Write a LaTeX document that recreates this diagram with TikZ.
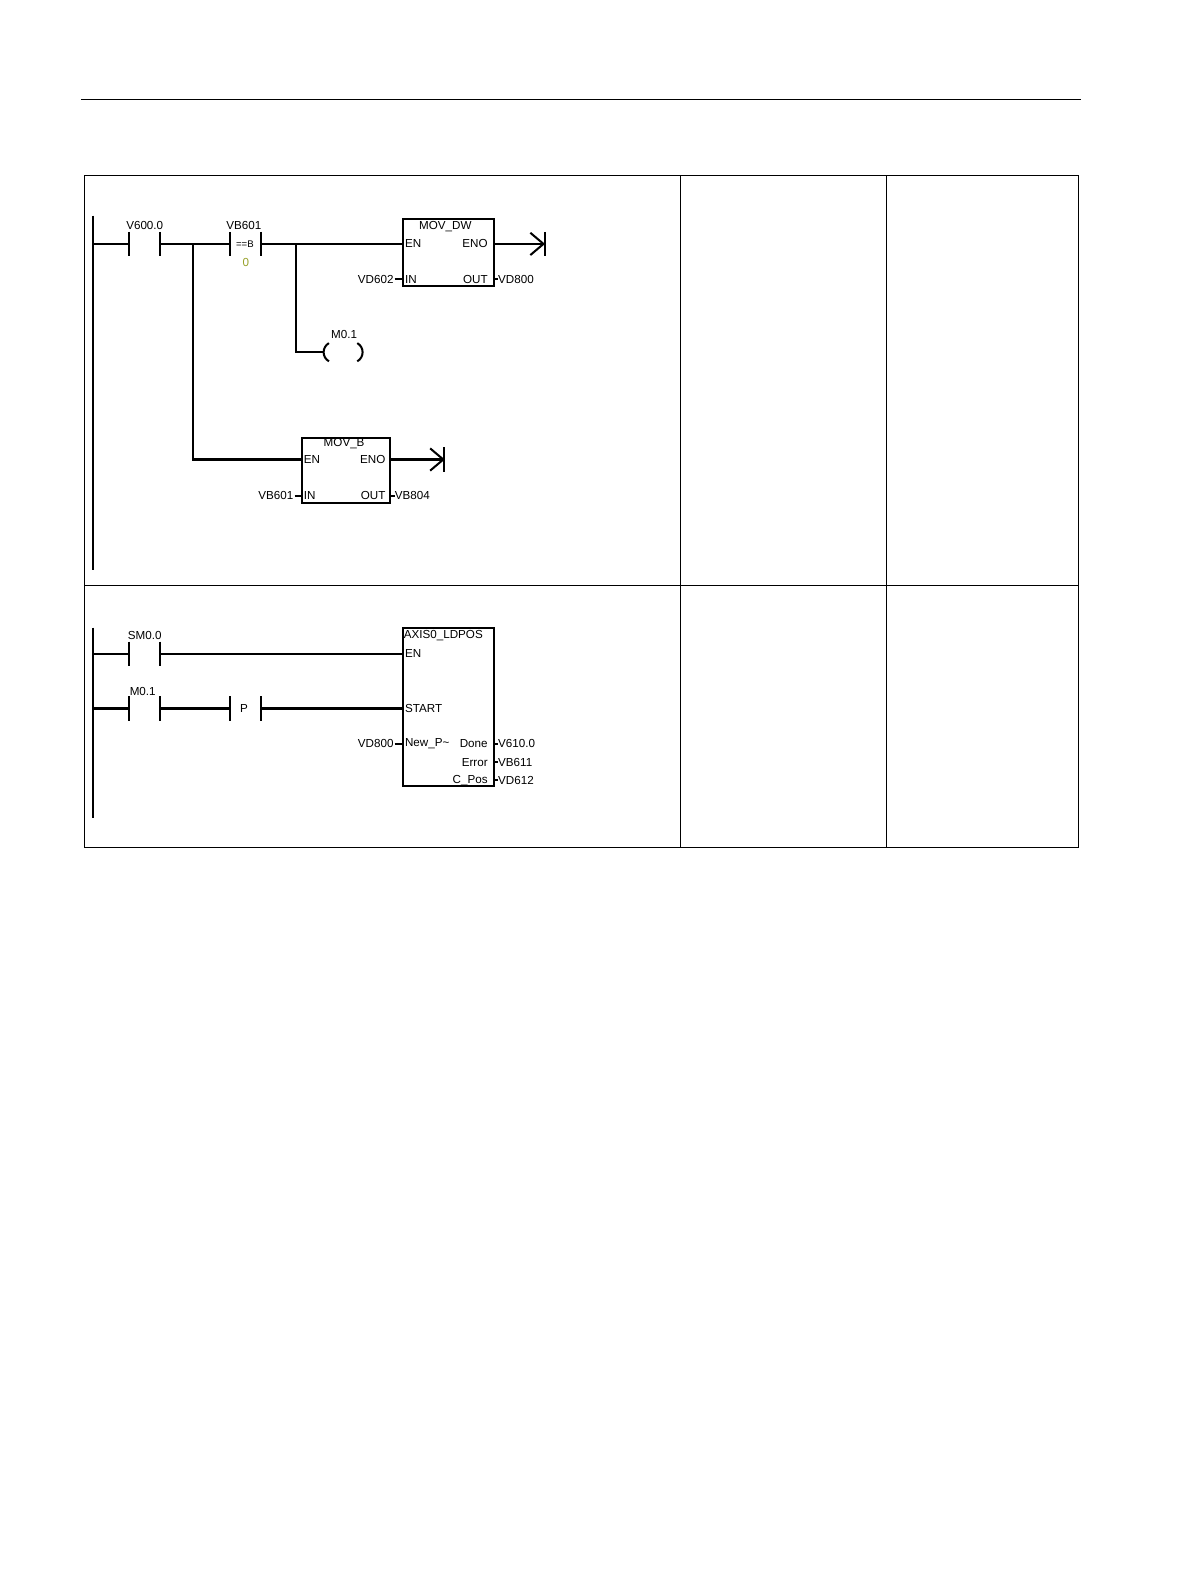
\documentclass[tikz,border=0pt]{standalone}
\usepackage{fontspec}
\setmainfont{Liberation Sans}
\begin{document}
\begin{tikzpicture}[x=1pt,y=-1pt,
  wire/.style={line width=2pt},
  thin/.style={line width=0.8pt},
  lbl/.style={font=\fontsize{11.5}{13}\selectfont,inner sep=0pt},
  boxst/.style={draw,line width=2pt}]
\useasboundingbox (0,0) rectangle (1177,1568);
% page rule and table
\draw[thin] (80,98) -- (1068,98);
\draw[thin] (83,173) rectangle (1065,837);
\draw[thin] (83,578) -- (1065,578);
\draw[thin] (672,173) -- (672,837);
\draw[thin] (876,173) -- (876,837);
% ---------- rung 1
\draw[wire] (92,213) -- (92,563);
\draw[wire] (92,241) -- (127,241);
\draw[wire] (127,229) -- (127,253);
\draw[wire] (158,229) -- (158,253);
\node[lbl] (c1) at (143,223) {V600.0};
\draw[wire] (158,241) -- (227,241);
\draw[wire] (227,229) -- (227,253);
\draw[wire] (258,229) -- (258,253);
\node[lbl] (c2) at (241,223) {VB601};
\node[lbl,font=\fontsize{9.5}{10}\selectfont] (c2b) at (242,241) {==B};
\node[lbl,text={rgb,255:red,150;green,160;blue,40}] (c2c) at (243,259) {0};
\draw[wire] (258,241) -- (398,241);
\draw[wire] (191,241) -- (191,454) -- (298,454);
\draw[wire] (292,241) -- (292,348) -- (319,348);
\draw[wire] (325,339) .. controls (318,343) and (318,353) .. (325,357);
\draw[wire] (353,339) .. controls (360,343) and (360,353) .. (353,357);
\node[lbl] (m01) at (340,330) {M0.1};
% MOV_DW
\node[boxst,minimum width=90pt,minimum height=67pt,inner sep=0pt] (mdw) at (443,249.5) {};
\node[lbl] at (440,224) {MOV\_DW};
\node[lbl,anchor=west] at (400,241) {EN};
\node[lbl,anchor=east] at (482,241) {ENO};
\node[lbl,anchor=west] at (400,276) {IN};
\node[lbl,anchor=east] at (482,276) {OUT};
\node[lbl,anchor=east] (vd602) at (389,276) {VD602};
\draw[wire] (390,276) -- (398,276);
\node[lbl,anchor=west] (vd800) at (492,276) {VD800};
\draw[wire] (488,276) -- (492,276);
\draw[wire] (488,241) -- (537,241);
\draw[wire] (524,230) -- (537,241) -- (524,252);
\draw[wire] (538,229) -- (538,253);
% MOV_B
\node[boxst,minimum width=87pt,minimum height=64pt,inner sep=0pt] (mb) at (341.5,465) {};
\node[lbl] at (340,438) {MOV\_B};
\node[lbl,anchor=west] at (300,454) {EN};
\node[lbl,anchor=east] at (381,454) {ENO};
\node[lbl,anchor=west] at (300,490) {IN};
\node[lbl,anchor=east] at (381,490) {OUT};
\node[lbl,anchor=east] (vb601) at (290,490) {VB601};
\draw[wire] (291,490) -- (298,490);
\node[lbl,anchor=west] (vb804) at (390,490) {VB804};
\draw[wire] (385,490) -- (390,490);
\draw[wire] (385,454) -- (438,454);
\draw[wire] (425,443) -- (438,454) -- (425,465);
\draw[wire] (439,442) -- (439,466);
% ---------- rung 2
\draw[wire] (92,620) -- (92,808);
\draw[wire] (92,646) -- (127,646);
\draw[wire] (127,634) -- (127,658);
\draw[wire] (158,634) -- (158,658);
\node[lbl] (sm) at (143,628) {SM0.0};
\draw[wire] (158,646) -- (398,646);
\draw[wire] (92,700) -- (127,700);
\draw[wire] (127,688) -- (127,712);
\draw[wire] (158,688) -- (158,712);
\node[lbl] (m01b) at (141,683) {M0.1};
\draw[wire] (158,700) -- (227,700);
\draw[wire] (227,688) -- (227,712);
\draw[wire] (258,688) -- (258,712);
\node[lbl] (p) at (241,700) {P};
\draw[wire] (258,700) -- (398,700);
\node[boxst,minimum width=90pt,minimum height=157pt,inner sep=0pt] (ax) at (443,698.5) {};
\node[lbl] at (438,628) {AXIS0\_LDPOS};
\node[lbl,anchor=west] at (400,646) {EN};
\node[lbl,anchor=west] at (400,700) {START};
\node[lbl,anchor=west] at (400,735) {New\_P\textasciitilde};
\node[lbl,anchor=east] at (482,735) {Done};
\node[lbl,anchor=east] at (482,753) {Error};
\node[lbl,anchor=east] at (482,771) {C\_Pos};
\node[lbl,anchor=east] (vd800b) at (389,735) {VD800};
\draw[wire] (390,735) -- (398,735);
\node[lbl,anchor=west] at (492,735) {V610.0};
\node[lbl,anchor=west] at (492,753) {VB611};
\node[lbl,anchor=west] at (492,771) {VD612};
\draw[wire] (488,735) -- (492,735);
\draw[wire] (488,753) -- (492,753);
\draw[wire] (488,771) -- (492,771);
\end{tikzpicture}
\end{document}
